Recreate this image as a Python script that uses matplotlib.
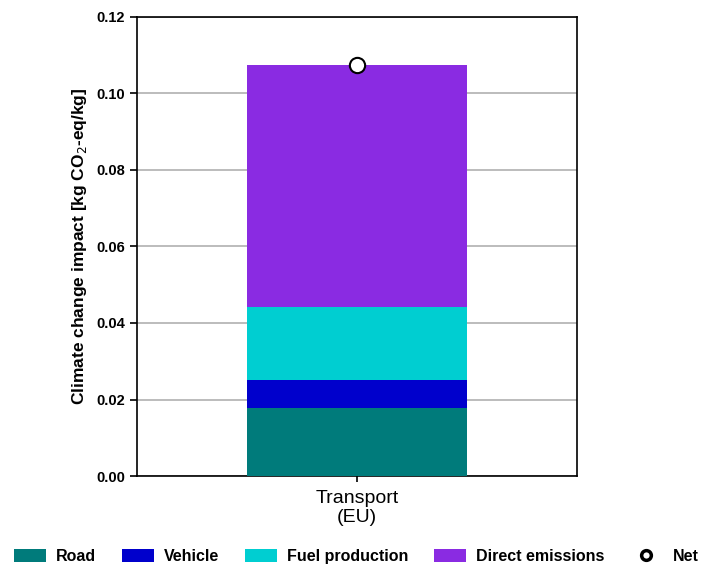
import matplotlib
matplotlib.use("Agg")
import matplotlib.pyplot as plt
from matplotlib.lines import Line2D
import numpy as np

plt.rcParams['font.family'] = ['Liberation Sans', 'DejaVu Sans']

categories = ["Transport\n(EU)"]
road = [0.0177]
vehicle = [0.0073]
fuel_production = [0.0193]
direct_emissions = [0.0632]
net = [0.1075]

series = [("Road", road, "#007b7b"),
          ("Vehicle", vehicle, "#0000cc"),
          ("Fuel production", fuel_production, "#00ced1"),
          ("Direct emissions", direct_emissions, "#8a2be2")]

fig = plt.figure(figsize=(7.05, 5.66), dpi=100)
ax = fig.add_axes([137/705, 90/566, 440/705, 459/566])

x = np.arange(len(categories))
bottom = np.zeros(len(categories))
handles = []
for name, vals, col in series:
    b = ax.bar(x, vals, width=0.5, bottom=bottom, color=col, label=name, zorder=3)
    bottom += np.array(vals)
    handles.append(b)

ax.plot(x, net, 'o', markersize=11, markerfacecolor='white', markeredgecolor='black',
        markeredgewidth=1.5, zorder=4)
net_handle = Line2D([], [], marker='o', linestyle='none', markersize=7,
                    markerfacecolor='white', markeredgecolor='black', markeredgewidth=2.5)

ax.set_xlim(-0.5, 0.5)
ax.set_ylim(0, 0.12)
ax.set_yticks(np.arange(0, 0.121, 0.02))
ax.set_yticklabels([f"{v:.2f}" for v in np.arange(0, 0.121, 0.02)], fontweight='bold', fontsize=10.5)
ax.set_xticks(x)
ax.set_xticklabels(categories, fontsize=14, linespacing=1.2)
ax.yaxis.grid(True, color='#b0b0b0', linewidth=1.2, zorder=0)
ax.set_axisbelow(True)
ax.set_ylabel("Climate change impact [kg CO$_2$-eq/kg]", fontweight='bold', fontsize=12.5, labelpad=5)
for s in ax.spines.values():
    s.set_linewidth(1.2)
ax.tick_params(axis='y', length=5, width=1.2)
ax.tick_params(axis='x', length=4, width=1.2, pad=6)

leg = fig.legend(handles + [net_handle], [s[0] for s in series] + ["Net"],
                 loc='lower center', bbox_to_anchor=(0.505, -0.022), ncol=5, frameon=False,
                 prop={'weight': 'bold', 'size': 11.5}, handlelength=2.0, handleheight=0.8,
                 columnspacing=1.6, handletextpad=0.65)

fig.savefig("out.png", dpi=100)
